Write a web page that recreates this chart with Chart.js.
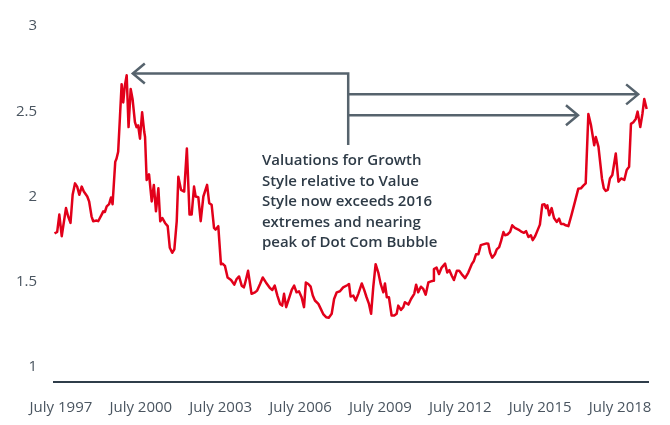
<!DOCTYPE html>
<html>
<head>
<meta charset="utf-8">
<script src="https://cdn.jsdelivr.net/npm/chart.js@4"></script>
<style>
  html, body { margin: 0; padding: 0; background: #fff; }
</style>
</head>
<body>
<canvas id="growthValueChart" width="670" height="425"></canvas>
<script>
// Growth / Value valuation ratio (decimal year, ratio)
const years = [
  1997.26, 1997.36, 1997.44, 1997.53, 1997.69, 1997.77, 1997.86, 1997.94, 1998.03, 1998.11,
  1998.19, 1998.28, 1998.36, 1998.49, 1998.56, 1998.65, 1998.71, 1998.84, 1998.90, 1999.03,
  1999.09, 1999.15, 1999.22, 1999.31, 1999.38, 1999.44, 1999.54, 1999.59, 1999.65, 1999.72,
  1999.78, 1999.84, 1999.90, 1999.97, 2000.04, 2000.12, 2000.19, 2000.28, 2000.34, 2000.40,
  2000.47, 2000.55, 2000.63, 2000.66, 2000.72, 2000.81, 2000.91, 2000.99, 2001.07, 2001.16,
  2001.23, 2001.31, 2001.41, 2001.51, 2001.59, 2001.68, 2001.76, 2001.85, 2001.91, 2002.01,
  2002.13, 2002.23, 2002.33, 2002.41, 2002.50, 2002.56, 2002.66, 2002.75, 2002.85, 2002.99,
  2003.07, 2003.16, 2003.25, 2003.31, 2003.41, 2003.51, 2003.57, 2003.66, 2003.76, 2003.89,
  2004.01, 2004.10, 2004.19, 2004.29, 2004.37, 2004.41, 2004.53, 2004.66, 2004.79, 2004.87,
  2004.98, 2005.08, 2005.20, 2005.35, 2005.44, 2005.53, 2005.63, 2005.73, 2005.81, 2005.88,
  2005.96, 2006.04, 2006.17, 2006.26, 2006.35, 2006.44, 2006.54, 2006.63, 2006.70, 2006.79,
  2006.88, 2006.96, 2007.04, 2007.17, 2007.26, 2007.36, 2007.46, 2007.56, 2007.67, 2007.76,
  2007.86, 2007.98, 2008.10, 2008.27, 2008.32, 2008.38, 2008.48, 2008.57, 2008.67, 2008.80,
  2008.89, 2008.98, 2009.07, 2009.15, 2009.23, 2009.32, 2009.42, 2009.51, 2009.61, 2009.67,
  2009.74, 2009.82, 2009.92, 2010.02, 2010.11, 2010.17, 2010.27, 2010.36, 2010.42, 2010.55,
  2010.65, 2010.77, 2010.84, 2010.92, 2011.02, 2011.11, 2011.20, 2011.30, 2011.40, 2011.48,
  2011.51, 2011.61, 2011.70, 2011.80, 2011.93, 2012.01, 2012.09, 2012.18, 2012.26, 2012.37,
  2012.46, 2012.55, 2012.68, 2012.80, 2012.93, 2013.01, 2013.09, 2013.18, 2013.27, 2013.36,
  2013.49, 2013.55, 2013.62, 2013.70, 2013.80, 2013.87, 2013.96, 2014.03, 2014.12, 2014.18,
  2014.27, 2014.37, 2014.45, 2014.55, 2014.68, 2014.81, 2014.89, 2014.97, 2015.06, 2015.15,
  2015.22, 2015.31, 2015.39, 2015.49, 2015.58, 2015.66, 2015.72, 2015.77, 2015.84, 2015.93,
  2016.02, 2016.12, 2016.21, 2016.28, 2016.37, 2016.46, 2016.56, 2016.68, 2016.81, 2016.93,
  2017.03, 2017.12, 2017.21, 2017.31, 2017.41, 2017.53, 2017.59, 2017.64, 2017.69, 2017.82,
  2017.89, 2017.96, 2018.04, 2018.12, 2018.21, 2018.34, 2018.44, 2018.54, 2018.66, 2018.75,
  2018.84, 2018.91, 2019.00, 2019.09, 2019.16, 2019.26, 2019.34, 2019.41, 2019.50
];
const ratio = [
  1.783, 1.792, 1.894, 1.767, 1.932, 1.884, 1.845, 2.010, 2.077, 2.058,
  2.010, 2.058, 2.029, 2.000, 1.971, 1.884, 1.855, 1.859, 1.855, 1.894,
  1.913, 1.909, 1.942, 1.955, 1.994, 1.955, 2.203, 2.223, 2.262, 2.475,
  2.659, 2.552, 2.649, 2.711, 2.407, 2.630, 2.572, 2.436, 2.407, 2.417,
  2.339, 2.494, 2.378, 2.349, 2.097, 2.130, 1.971, 2.068, 1.913, 2.048,
  1.855, 1.874, 1.845, 1.826, 1.699, 1.670, 1.690, 1.855, 2.116, 2.039,
  2.029, 2.281, 1.894, 1.894, 2.058, 2.000, 1.996, 1.855, 2.000, 2.068,
  1.961, 1.952, 1.816, 1.806, 1.826, 1.603, 1.606, 1.593, 1.525, 1.510,
  1.483, 1.516, 1.531, 1.477, 1.467, 1.487, 1.564, 1.429, 1.438, 1.448,
  1.487, 1.525, 1.496, 1.463, 1.452, 1.477, 1.419, 1.370, 1.360, 1.429,
  1.351, 1.390, 1.452, 1.477, 1.438, 1.444, 1.409, 1.351, 1.496, 1.487,
  1.471, 1.419, 1.390, 1.370, 1.341, 1.308, 1.292, 1.289, 1.312, 1.399,
  1.438, 1.444, 1.467, 1.481, 1.487, 1.413, 1.419, 1.390, 1.429, 1.490,
  1.452, 1.409, 1.370, 1.312, 1.467, 1.603, 1.554, 1.487, 1.438, 1.490,
  1.409, 1.409, 1.302, 1.302, 1.312, 1.360, 1.335, 1.351, 1.380, 1.366,
  1.399, 1.429, 1.483, 1.438, 1.471, 1.458, 1.424, 1.496, 1.502, 1.506,
  1.574, 1.583, 1.545, 1.583, 1.606, 1.554, 1.568, 1.535, 1.510, 1.564,
  1.564, 1.545, 1.521, 1.554, 1.603, 1.622, 1.661, 1.661, 1.715, 1.719,
  1.725, 1.723, 1.670, 1.641, 1.661, 1.690, 1.703, 1.738, 1.792, 1.773,
  1.777, 1.792, 1.831, 1.816, 1.806, 1.792, 1.787, 1.797, 1.762, 1.773,
  1.744, 1.767, 1.797, 1.835, 1.952, 1.955, 1.932, 1.948, 1.890, 1.932,
  1.874, 1.851, 1.870, 1.839, 1.839, 1.831, 1.826, 1.894, 1.971, 2.045,
  2.048, 2.064, 2.077, 2.484, 2.417, 2.301, 2.349, 2.320, 2.291, 2.106,
  2.048, 2.033, 2.039, 2.106, 2.126, 2.252, 2.087, 2.106, 2.097, 2.155,
  2.174, 2.426, 2.436, 2.455, 2.498, 2.407, 2.484, 2.572, 2.513
];
const tickYears = [1997, 2000, 2003, 2006, 2009, 2012, 2015, 2018];
const yTicks = [1, 1.5, 2, 2.5, 3];
const noteLines = [
  'Valuations for Growth',
  'Style relative to Value',
  'Style now exceeds 2016',
  'extremes and nearing',
  'peak of Dot Com Bubble'
];

// annotation anchors, in data units
const arrowLeftX = 2000.2;   // tip pointing at the dot com peak
const arrowStemX = 2008.29;
const arrowRightX1 = 2019.18; // tip at the latest peak
const arrowRightX2 = 2016.92; // tip at the 2016 peak
const arrowTopY = 2.721, arrowMidY = 2.599, arrowLowY = 2.477, stemBottomY = 2.302;
const noteX = 2005.05, noteTopY = 2.209;

const arrowsPlugin = {
  id: 'arrows',
  afterDatasetsDraw(chart) {
    const { ctx, scales: { x, y } } = chart;
    const px = v => x.getPixelForValue(v);
    const py = v => y.getPixelForValue(v);
    ctx.save();
    ctx.strokeStyle = '#56636d';
    ctx.lineWidth = 2.5;
    ctx.lineJoin = 'miter';
    ctx.beginPath();
    ctx.moveTo(px(arrowLeftX), py(arrowTopY));
    ctx.lineTo(px(arrowStemX), py(arrowTopY));
    ctx.lineTo(px(arrowStemX), py(stemBottomY));
    ctx.moveTo(px(arrowStemX), py(arrowMidY));
    ctx.lineTo(px(arrowRightX1), py(arrowMidY));
    ctx.moveTo(px(arrowStemX), py(arrowLowY));
    ctx.lineTo(px(arrowRightX2), py(arrowLowY));
    ctx.stroke();

    // open chevron heads
    const head = (tx, ty, dir) => {
      ctx.beginPath();
      ctx.moveTo(tx - dir * 12, ty - 10);
      ctx.lineTo(tx, ty);
      ctx.lineTo(tx - dir * 12, ty + 10);
      ctx.stroke();
    };
    head(px(arrowLeftX), py(arrowTopY), -1);
    head(px(arrowRightX1), py(arrowMidY), 1);
    head(px(arrowRightX2), py(arrowLowY), 1);

    ctx.fillStyle = '#2e3b47';
    ctx.font = '600 15px "Open Sans"';
    ctx.textBaseline = 'middle';
    ctx.textAlign = 'left';
    noteLines.forEach((line, i) => {
      ctx.fillText(line, px(noteX), py(noteTopY) + i * 20.5);
    });
    ctx.restore();
  }
};

const tickFont = { family: 'Open Sans', size: 15 };

new Chart(document.getElementById('growthValueChart'), {
  type: 'line',
  data: {
    datasets: [{
      data: years.map((yr, i) => ({ x: yr, y: ratio[i] })),
      borderColor: '#e2001a',
      borderWidth: 2.5,
      borderJoinStyle: 'round',
      pointRadius: 0,
      tension: 0,
      fill: false
    }]
  },
  options: {
    responsive: false,
    animation: false,
    layout: { padding: { top: 23, right: 22, bottom: 0, left: 0 } },
    plugins: {
      legend: { display: false },
      tooltip: { enabled: false }
    },
    scales: {
      x: {
        type: 'linear',
        min: 1997.24,
        max: 2019.55,
        afterBuildTicks: s => { s.ticks = tickYears.map(t => ({ value: t + 0.5 })); },
        afterFit: s => { s.height = 43; },
        grid: { display: false, drawTicks: false },
        border: { display: true, color: '#2f3d4a', width: 2 },
        ticks: {
          autoSkip: false,
          maxRotation: 0,
          padding: 17,
          color: '#4a5560',
          font: tickFont,
          callback: (v, i) => 'July ' + tickYears[i]
        }
      },
      y: {
        min: 0.912,
        max: 3,
        afterBuildTicks: s => { s.ticks = yTicks.map(v => ({ value: v })); },
        afterFit: s => { s.width = 54; },
        grid: { display: false, drawTicks: false },
        border: { display: false },
        ticks: {
          padding: 17,
          color: '#4a5560',
          font: tickFont,
          callback: v => String(v)
        }
      }
    }
  },
  plugins: [arrowsPlugin]
});
</script>
</body>
</html>
